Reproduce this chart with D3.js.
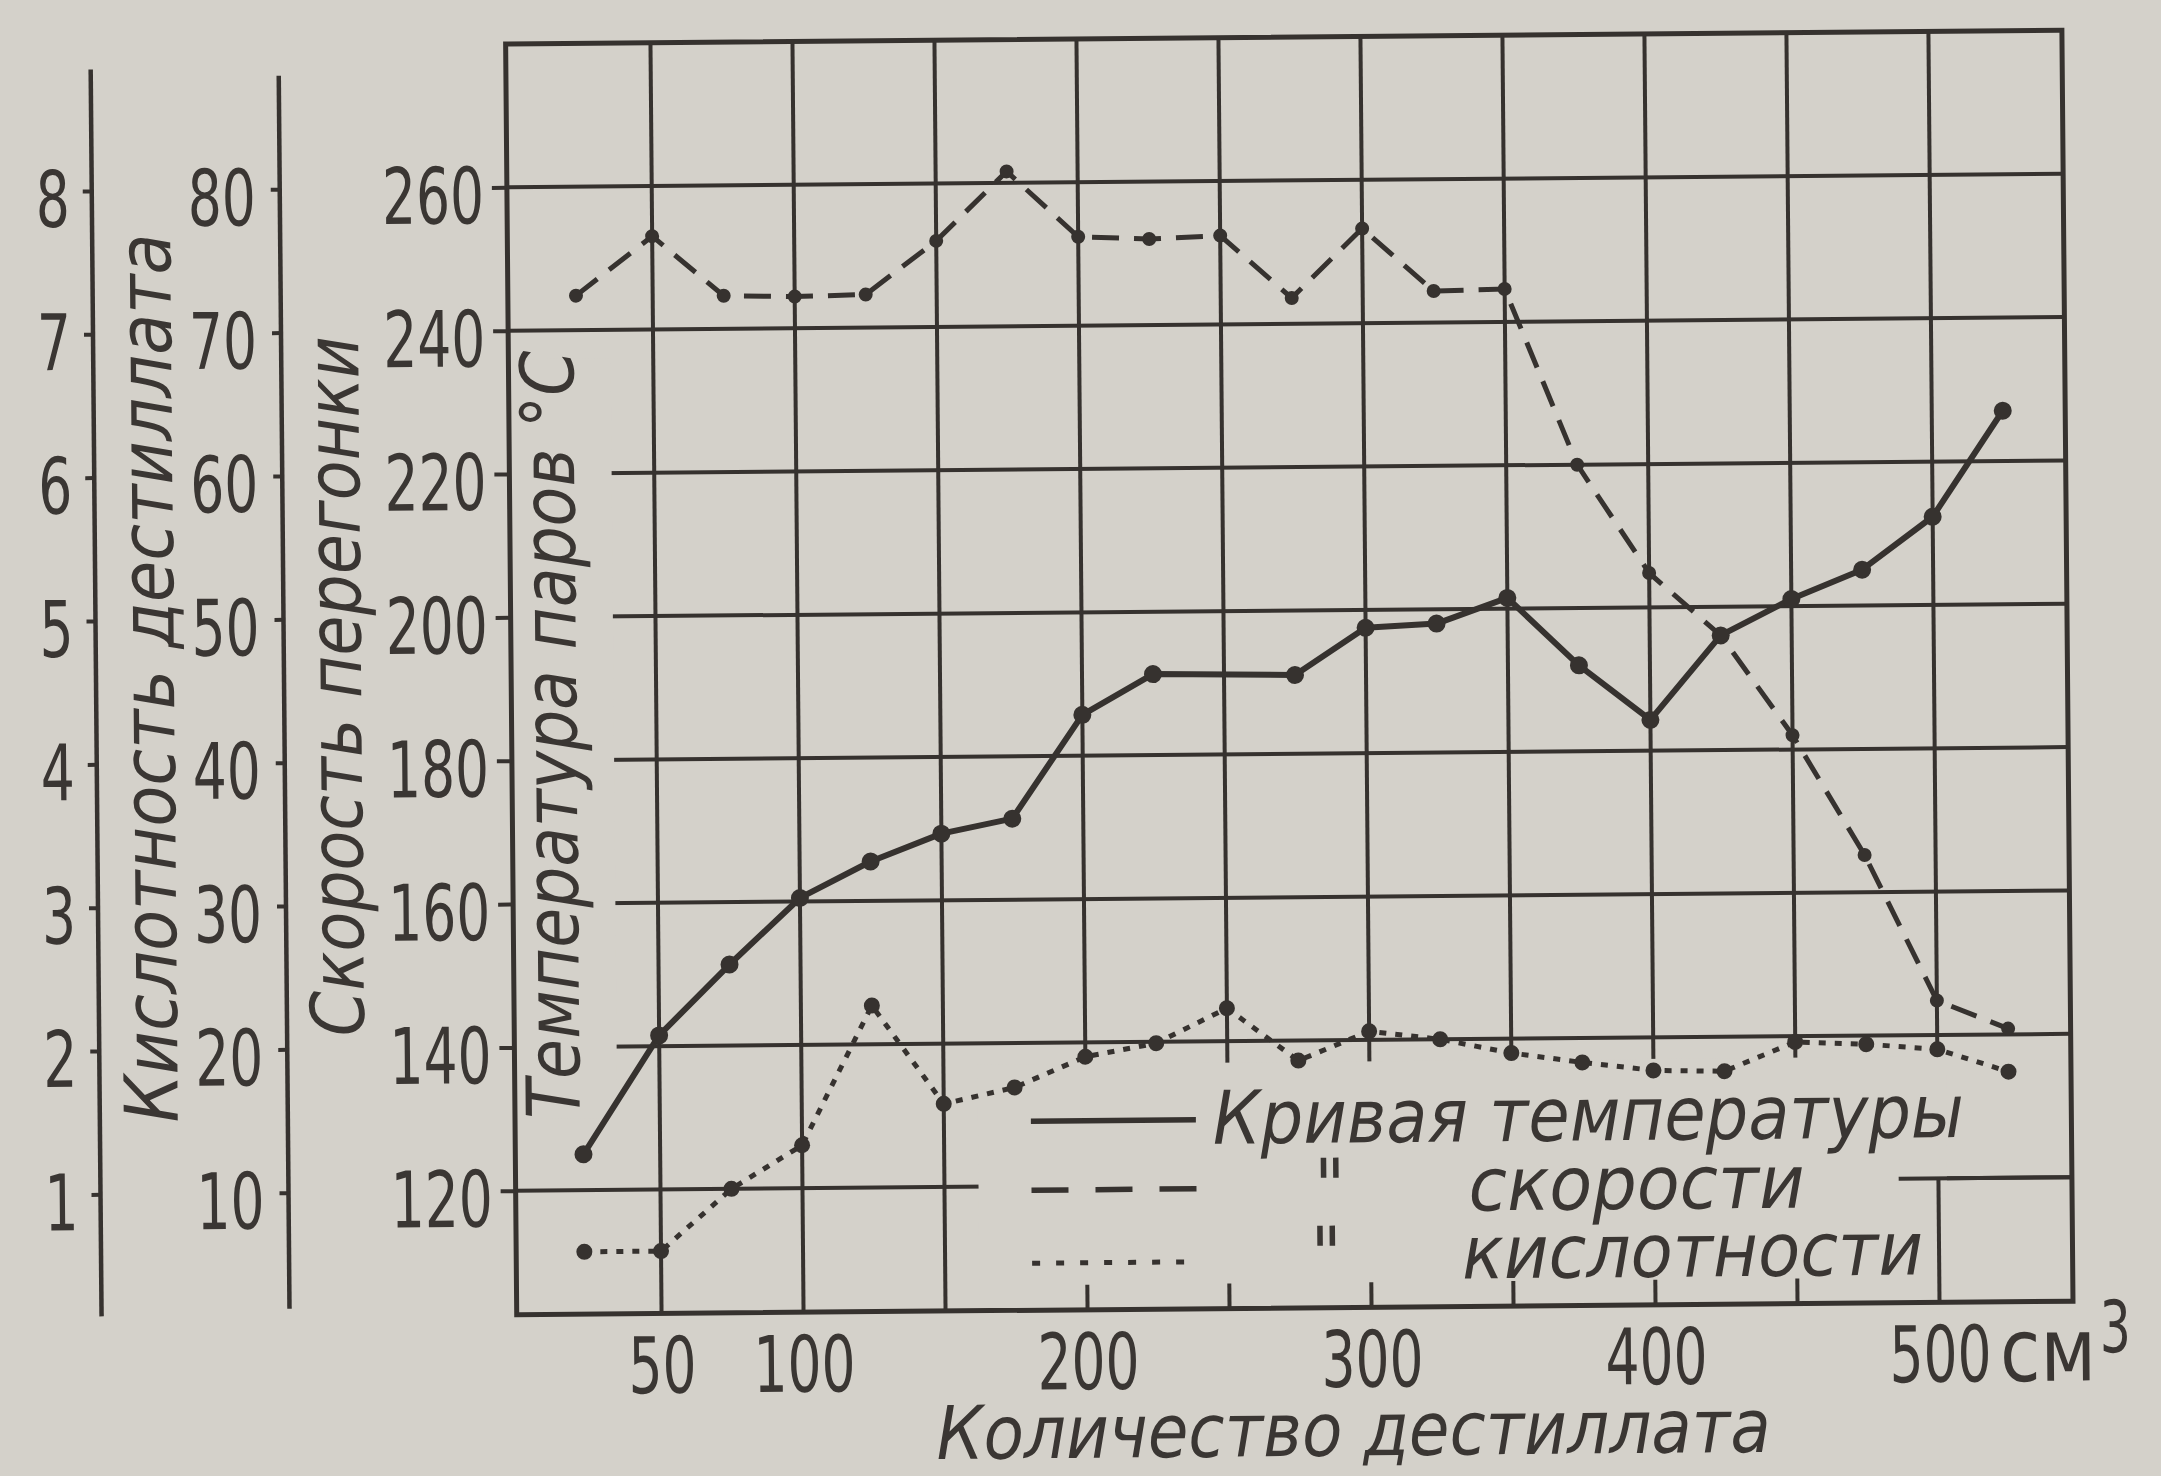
<!DOCTYPE html>
<html>
<head>
<meta charset="utf-8">
<script src="https://cdn.jsdelivr.net/npm/d3@7"></script>
<style>
  html, body { margin: 0; padding: 0; background: #d4d1ca; }
  svg { display: block; }
  text { fill: #3a3633; }
</style>
</head>
<body>
<div id="chart"></div>
<script>
// distillation chart: temperature, speed and acidity vs amount of distillate
const svgWidth = 2161;
const svgHeight = 1476;
const paper = "#d4d1ca";
const ink = "#36322f";
const narrow = "'Liberation Sans Narrow','DejaVu Sans Condensed','Liberation Sans',sans-serif";
const digitW = 34; // width of one digit in the tick labels

// values
const volume = [23, 50, 75, 100, 125, 150, 175, 200, 225, 250, 275, 300, 325, 350, 375, 400, 425, 450, 475, 500, 525];
const tempVolume = [23, 50, 75, 100, 125, 150, 175, 200, 225, 275, 300, 325, 350, 375, 400, 425, 450, 475, 500, 525];
const temperature = [125, 141.5, 151.3, 160.5, 165.5, 169.3, 171.3, 185.7, 191.3, 191, 197.5, 198, 201.5, 192, 184.3, 196, 201, 205, 212.3, 227];
const speed = [72.4, 76.5, 72.3, 72.2, 72.3, 76, 80.8, 76.2, 76, 76.2, 71.8, 76.6, 72.2, 72.3, 60, 52.4, 48, 41, 32.6, 22.4, 20.4];
const acidity = [0.57, 0.57, 1.0, 1.3, 2.27, 1.58, 1.69, 1.9, 1.99, 2.23, 1.86, 2.06, 2.0, 1.9, 1.83, 1.77, 1.76, 1.96, 1.94, 1.9, 1.74];

const xTicks = [50, 100, 200, 300, 400, 500];
const xGrid = [50, 100, 150, 200, 250, 300, 350, 400, 450, 500];
const tempTicks = [120, 140, 160, 180, 200, 220, 240, 260];
const speedTicks = [10, 20, 30, 40, 50, 60, 70, 80];
const acidTicks = [1, 2, 3, 4, 5, 6, 7, 8];

const svg = d3.select("#chart")
    .append("svg")
    .attr("width", svgWidth)
    .attr("height", svgHeight);

svg.append("rect").attr("width", svgWidth).attr("height", svgHeight).attr("fill", paper);

// the photo is a little tilted
const g = svg.append("g").attr("transform", "rotate(-0.5 1286 674)");

const x = d3.scaleLinear().domain([0, 550]).range([514, 2076]);
const t = d3.scaleLinear().domain([120, 260]).range([1184, 180.5]);
const s = d3.scaleLinear().domain([10, 80]).range(t.range());
const a = d3.scaleLinear().domain([1, 8]).range(t.range());

// frame limits in data units
const xLeft = -1, xRight = 547, tTop = 280, tBottom = 102.7;

// grid
const grid = g.append("g").attr("stroke", ink).attr("stroke-width", 4);
grid.selectAll(".v").data(xGrid).join("line").attr("class", "v")
    .attr("x1", d => x(d)).attr("x2", d => x(d))
    .attr("y1", t(tTop)).attr("y2", t(tBottom));
grid.selectAll(".h").data(tempTicks).join("line").attr("class", "h")
    .attr("x1", x(xLeft)).attr("x2", x(xRight))
    .attr("y1", d => t(d)).attr("y2", d => t(d));

// blank strip behind the temperature label and the legend
g.append("rect")
    .attr("x", x(xLeft)).attr("width", x(35) - x(xLeft))
    .attr("y", t(236)).attr("height", t(130) - t(236))
    .attr("fill", paper);
g.append("rect")
    .attr("x", x(162)).attr("width", x(503) - x(162))
    .attr("y", t(137)).attr("height", t(tBottom) - t(137))
    .attr("fill", paper);

// what is left of the grid under the legend
const stubs = g.append("g").attr("stroke", ink).attr("stroke-width", 4);
stubs.selectAll("line").data([200, 250, 300, 350, 400, 450]).join("line")
    .attr("x1", d => x(d)).attr("x2", d => x(d))
    .attr("y1", t(tBottom)).attr("y2", t(tBottom + 3.5));
stubs.append("line")
    .attr("x1", x(500)).attr("x2", x(500))
    .attr("y1", t(tBottom)).attr("y2", t(120));
stubs.append("line")
    .attr("x1", x(486)).attr("x2", x(xRight))
    .attr("y1", t(120)).attr("y2", t(120));

// frame
g.append("rect")
    .attr("x", x(xLeft)).attr("y", t(tTop))
    .attr("width", x(xRight) - x(xLeft)).attr("height", t(tBottom) - t(tTop))
    .attr("fill", "none").attr("stroke", ink).attr("stroke-width", 5);

// tick labels: narrow digits
function styleTickText(sel) {
    sel.attr("font-family", narrow).attr("font-size", 78).attr("fill", ink)
        .attr("textLength", d => String(d).length * digitW)
        .attr("lengthAdjust", "spacingAndGlyphs");
}

// left axes
function styleAxis(sel) {
    sel.select(".domain").remove();
    sel.selectAll(".tick line").attr("stroke", ink).attr("stroke-width", 4);
    sel.selectAll(".tick text").call(styleTickText).attr("dy", "0.45em");
}

g.append("g")
    .attr("transform", `translate(${x(xLeft)},0)`)
    .call(d3.axisLeft(t).tickValues(tempTicks).tickFormat(d3.format("d")).tickSize(15).tickPadding(8))
    .call(styleAxis);

g.append("g")
    .attr("transform", "translate(284,0)")
    .call(d3.axisLeft(s).tickValues(speedTicks).tickFormat(d3.format("d")).tickSize(9).tickPadding(15))
    .call(styleAxis);
g.append("line").attr("x1", 284).attr("x2", 284).attr("y1", 67).attr("y2", 1300)
    .attr("stroke", ink).attr("stroke-width", 4.5);

g.append("g")
    .attr("transform", "translate(96,0)")
    .call(d3.axisLeft(a).tickValues(acidTicks).tickFormat(d3.format("d")).tickSize(9).tickPadding(13))
    .call(styleAxis);
g.append("line").attr("x1", 96).attr("x2", 96).attr("y1", 59).attr("y2", 1306)
    .attr("stroke", ink).attr("stroke-width", 4.5);

// bottom axis labels
const xAxis = g.append("g")
    .attr("transform", `translate(0,${t(tBottom)})`)
    .call(d3.axisBottom(x).tickValues(xTicks).tickFormat(d3.format("d")).tickSize(0).tickPadding(24));
xAxis.select(".domain").remove();
xAxis.selectAll(".tick text").call(styleTickText);

const unitY = t(tBottom) + 24 + 78 * 0.71;
g.append("text").attr("x", x(500) + 60).attr("y", unitY)
    .attr("font-family", narrow).attr("font-size", 88)
    .attr("textLength", 96).attr("lengthAdjust", "spacingAndGlyphs")
    .text("см");
g.append("text").attr("x", x(500) + 160).attr("y", unitY - 28)
    .attr("font-family", narrow).attr("font-size", 72)
    .attr("textLength", 31).attr("lengthAdjust", "spacingAndGlyphs")
    .text("3");

// axis titles
function rotTitle(label, bx, cy, len) {
    g.append("text")
        .attr("transform", `translate(${bx},${cy}) rotate(-90)`)
        .attr("text-anchor", "middle")
        .attr("font-family", narrow).attr("font-style", "italic").attr("font-size", 74)
        .attr("textLength", len).attr("lengthAdjust", "spacingAndGlyphs")
        .text(label);
}
rotTitle("Кислотность дестиллата", 174, 668, 889);
rotTitle("Скорость перегонки", 361, 678, 700);
rotTitle("Температура паров °С", 576, 728, 768);

g.append("text")
    .attr("x", 930).attr("y", 1456)
    .attr("font-family", narrow).attr("font-style", "italic").attr("font-size", 74)
    .attr("textLength", 834).attr("lengthAdjust", "spacingAndGlyphs")
    .text("Количество дестиллата");

// curves
const tempPts = d3.zip(tempVolume, temperature);
const speedPts = d3.zip(volume, speed);
const acidPts = d3.zip(volume, acidity);

g.append("path").datum(acidPts)
    .attr("d", d3.line().x(d => x(d[0])).y(d => a(d[1])))
    .attr("fill", "none").attr("stroke", ink).attr("stroke-width", 5)
    .attr("stroke-dasharray", "7,9");
g.append("path").datum(speedPts)
    .attr("d", d3.line().x(d => x(d[0])).y(d => s(d[1])))
    .attr("fill", "none").attr("stroke", ink).attr("stroke-width", 5)
    .attr("stroke-dasharray", "27,15");
g.append("path").datum(tempPts)
    .attr("d", d3.line().x(d => x(d[0])).y(d => t(d[1])))
    .attr("fill", "none").attr("stroke", ink).attr("stroke-width", 6)
    .attr("stroke-linejoin", "round");

g.selectAll(".dotA").data(acidPts).join("circle").attr("class", "dotA")
    .attr("cx", d => x(d[0])).attr("cy", d => a(d[1])).attr("r", 8).attr("fill", ink);
g.selectAll(".dotS").data(speedPts).join("circle").attr("class", "dotS")
    .attr("cx", d => x(d[0])).attr("cy", d => s(d[1])).attr("r", 7).attr("fill", ink);
g.selectAll(".dotT").data(tempPts).join("circle").attr("class", "dotT")
    .attr("cx", d => x(d[0])).attr("cy", d => t(d[1])).attr("r", 9).attr("fill", ink);

// legend
const legend = g.append("g");
legend.append("line").attr("x1", 1027).attr("x2", 1192).attr("y1", 1119).attr("y2", 1119)
    .attr("stroke", ink).attr("stroke-width", 5.5);
legend.append("line").attr("x1", 1027).attr("x2", 1192).attr("y1", 1188).attr("y2", 1188)
    .attr("stroke", ink).attr("stroke-width", 5.5).attr("stroke-dasharray", "37,27");
legend.append("line").attr("x1", 1027).attr("x2", 1192).attr("y1", 1261).attr("y2", 1261)
    .attr("stroke", ink).attr("stroke-width", 5).attr("stroke-dasharray", "8,16");

function legendText(label, lx, ly, len) {
    const el = legend.append("text").attr("x", lx).attr("y", ly)
        .attr("font-family", narrow).attr("font-style", "italic").attr("font-size", 74)
        .text(label);
    if (len) el.attr("textLength", len).attr("lengthAdjust", "spacingAndGlyphs");
}
legendText("Кривая температуры", 1209, 1143, 751);
legendText("\"", 1310, 1212);
legendText("скорости", 1464, 1212, 336);
legendText("\"", 1306, 1280);
legendText("кислотности", 1457, 1280, 461);
</script>
</body>
</html>
